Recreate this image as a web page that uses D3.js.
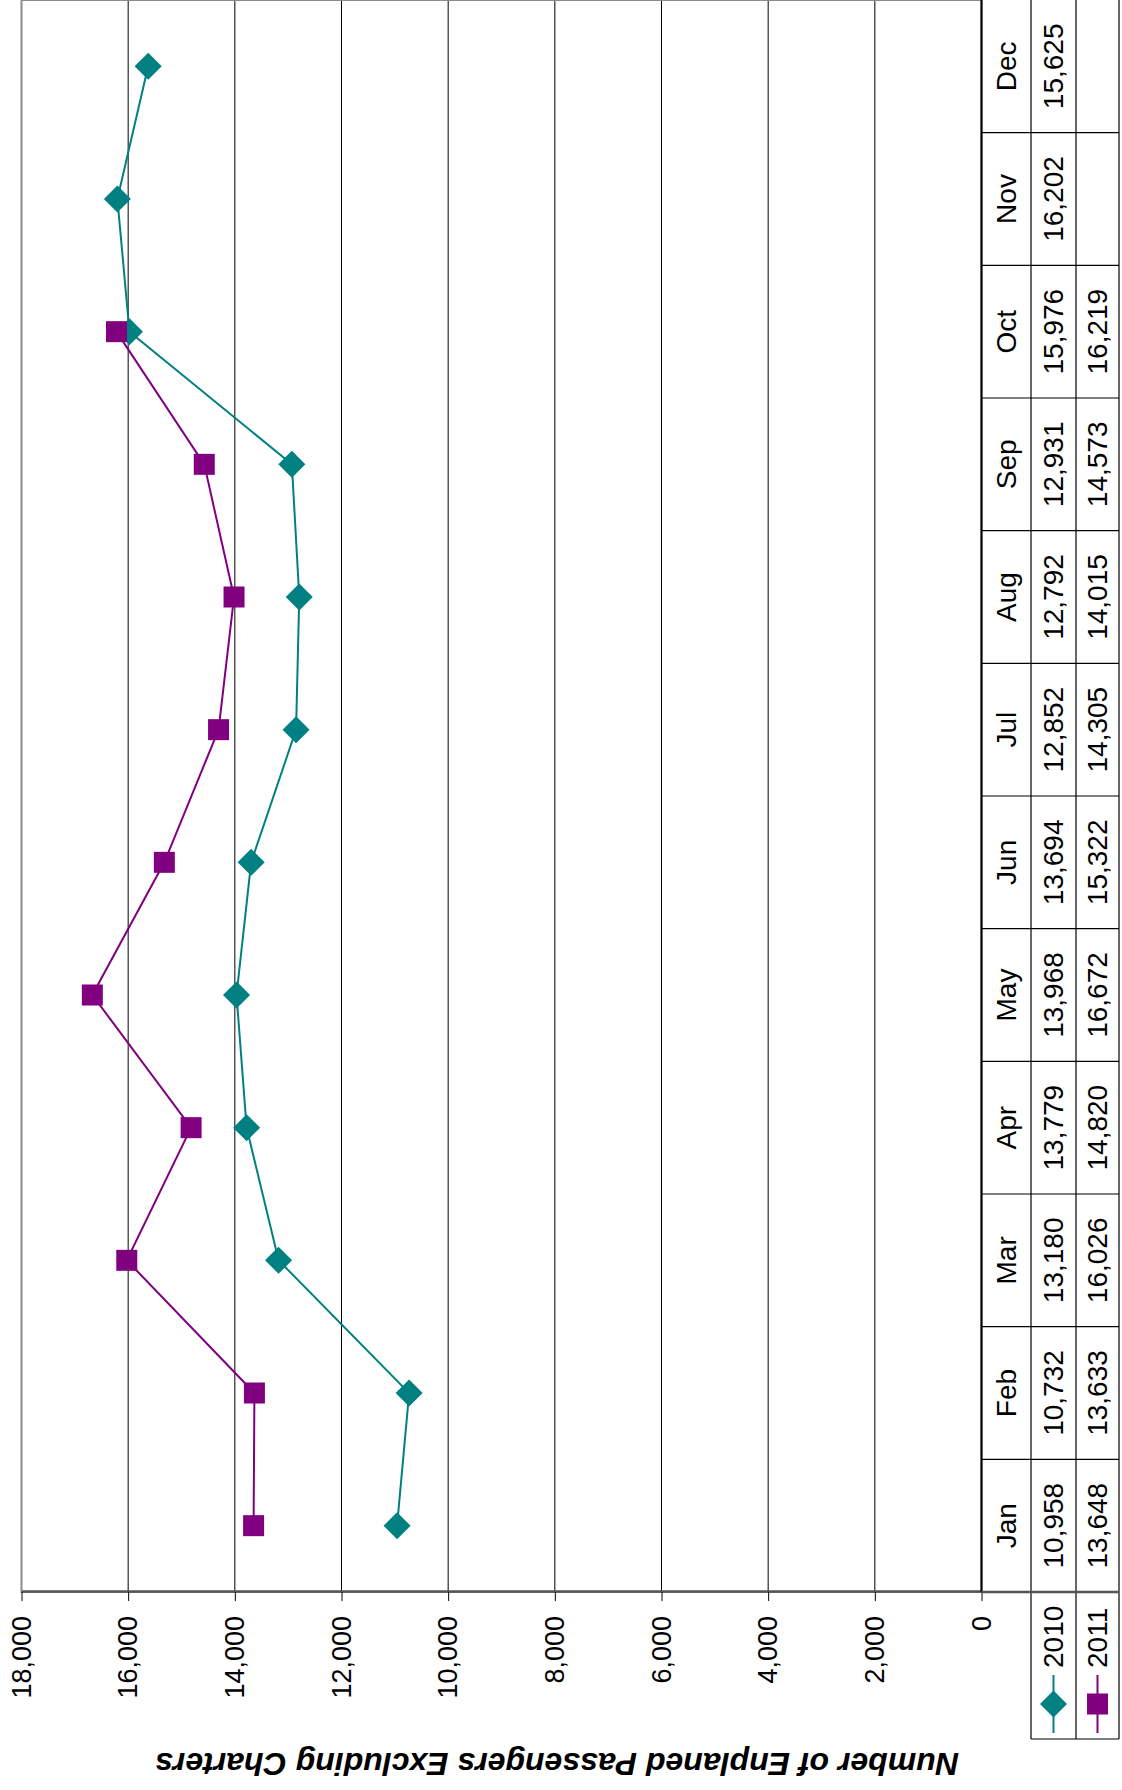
<!DOCTYPE html>
<html>
<head>
<meta charset="utf-8">
<script src="https://cdn.jsdelivr.net/npm/d3@7"></script>
<style>
  html, body { margin: 0; padding: 0; background: #fff; }
  svg { display: block; }
</style>
</head>
<body>
<svg id="chart"></svg>
<script>
const months = ["Jan", "Feb", "Mar", "Apr", "May", "Jun", "Jul", "Aug", "Sep", "Oct", "Nov", "Dec"];
const values2010 = [10958, 10732, 13180, 13779, 13968, 13694, 12852, 12792, 12931, 15976, 16202, 15625];
const values2011 = [13648, 13633, 16026, 14820, 16672, 15322, 14305, 14015, 14573, 16219];
const seriesNames = ["2010", "2011"];
const seriesColors = ["#008080", "#800080"];
const valueTicks = [0, 2000, 4000, 6000, 8000, 10000, 12000, 14000, 16000, 18000];
const axisTitle = "Number of Enplaned Passengers Excluding Charters";

const W = 1122, H = 1790;
const font = "'Liberation Sans', Arial, Helvetica, sans-serif";

const svg = d3.select("#chart")
    .attr("width", W)
    .attr("height", H)
    .style("font-family", font);

// laid out as an ordinary column chart (1790 wide, 1122 tall), then turned a quarter turn to the left
const g = svg.append("g").attr("transform", `translate(0,${H}) rotate(-90)`);

const left = 198, right = 1790;
const x = d3.scaleBand().domain(months).range([left, right]);
const y = d3.scaleLinear().domain([0, 18000]).range([981.5, 21.5]);
const bw = x.bandwidth();

// data table rows below the plot
const rows = [981.5, 1031, 1076, 1119];

// gridlines
g.append("g")
    .selectAll("line")
    .data(valueTicks.filter(d => d > 0 && d < 18000))
    .enter()
    .append("line")
    .attr("x1", left)
    .attr("x2", right)
    .attr("y1", d => y(d))
    .attr("y2", d => y(d))
    .attr("stroke", "#000")
    .attr("stroke-width", 1);

// plot area border
g.append("rect")
    .attr("x", left)
    .attr("y", y(18000))
    .attr("width", right - left)
    .attr("height", y(0) - y(18000))
    .attr("fill", "none")
    .attr("stroke", "#8a8a8a")
    .attr("stroke-width", 2);

// value axis
const yAxis = d3.axisLeft(y)
    .tickValues(valueTicks)
    .tickFormat(d3.format(","))
    .tickSizeInner(9)
    .tickSizeOuter(0)
    .tickPadding(15);

const ax = g.append("g")
    .attr("transform", `translate(${left},0)`)
    .call(yAxis);
ax.select(".domain").attr("stroke", "#555").attr("stroke-width", 2.5);
ax.selectAll(".tick line").attr("stroke", "#000");
ax.selectAll(".tick text")
    .attr("fill", "#000")
    .style("font-family", font)
    .style("font-size", "27px");

// table grid
const table = g.append("g").attr("stroke", "#000").attr("stroke-width", 1.2);
table.selectAll("line.sep")
    .data(months.slice(1))
    .enter()
    .append("line")
    .attr("x1", d => x(d))
    .attr("x2", d => x(d))
    .attr("y1", rows[0])
    .attr("y2", rows[3]);
table.selectAll("line.row")
    .data(rows.slice(1))
    .enter()
    .append("line")
    .attr("x1", 51)
    .attr("x2", right)
    .attr("y1", d => d)
    .attr("y2", d => d);
table.append("line")
    .attr("x1", left).attr("x2", right)
    .attr("y1", rows[0]).attr("y2", rows[0])
    .attr("stroke-width", 2);
table.append("line")
    .attr("x1", left).attr("x2", left)
    .attr("y1", rows[0]).attr("y2", rows[3])
    .attr("stroke", "#555").attr("stroke-width", 2.5);
table.append("line")
    .attr("x1", 51).attr("x2", 51)
    .attr("y1", rows[1]).attr("y2", rows[3]);

const fmt = d3.format(",");
const cellText = (data, row, label) => {
    g.append("g")
        .selectAll("text")
        .data(data)
        .enter()
        .append("text")
        .attr("x", (d, i) => x(months[i]) + bw / 2)
        .attr("y", (rows[row] + rows[row + 1]) / 2)
        .attr("text-anchor", "middle")
        .attr("dominant-baseline", "central")
        .style("font-size", "28px")
        .text(label);
};
cellText(months, 0, d => d);
cellText(values2010, 1, d => fmt(d));
cellText(values2011, 2, d => fmt(d));

// lines and markers
const diamond = d3.symbol(d3.symbolSquare, 365);
const square = d3.symbol(d3.symbolSquare, 441);
const line = d3.line()
    .x((d, i) => x(months[i]) + bw / 2)
    .y(d => y(d));

[values2010, values2011].forEach((vals, s) => {
    g.append("path")
        .datum(vals)
        .attr("d", line)
        .attr("fill", "none")
        .attr("stroke", seriesColors[s])
        .attr("stroke-width", 2);
    g.append("g")
        .selectAll("path")
        .data(vals)
        .enter()
        .append("path")
        .attr("d", s === 0 ? diamond : square)
        .attr("transform", (d, i) => `translate(${x(months[i]) + bw / 2},${y(d)})` + (s === 0 ? " rotate(45)" : ""))
        .attr("fill", seriesColors[s]);
});

// legend keys inside the table
const legend = g.append("g")
    .selectAll("g")
    .data(seriesNames)
    .enter()
    .append("g")
    .attr("transform", (d, i) => `translate(0,${(rows[i + 1] + rows[i + 2]) / 2})`);
legend.append("line")
    .attr("x1", 57).attr("x2", 115)
    .attr("stroke", (d, i) => seriesColors[i])
    .attr("stroke-width", 2);
legend.append("path")
    .attr("d", (d, i) => i === 0 ? diamond() : square())
    .attr("transform", (d, i) => "translate(86,0)" + (i === 0 ? " rotate(45)" : ""))
    .attr("fill", (d, i) => seriesColors[i]);
legend.append("text")
    .attr("x", 122)
    .attr("dominant-baseline", "central")
    .style("font-size", "28px")
    .text(d => d);

// axis title
g.append("text")
    .attr("transform", "translate(37,557) rotate(-90)")
    .attr("text-anchor", "middle")
    .style("font-size", "32px")
    .style("font-weight", "bold")
    .style("font-style", "italic")
    .text(axisTitle);
</script>
</body>
</html>
